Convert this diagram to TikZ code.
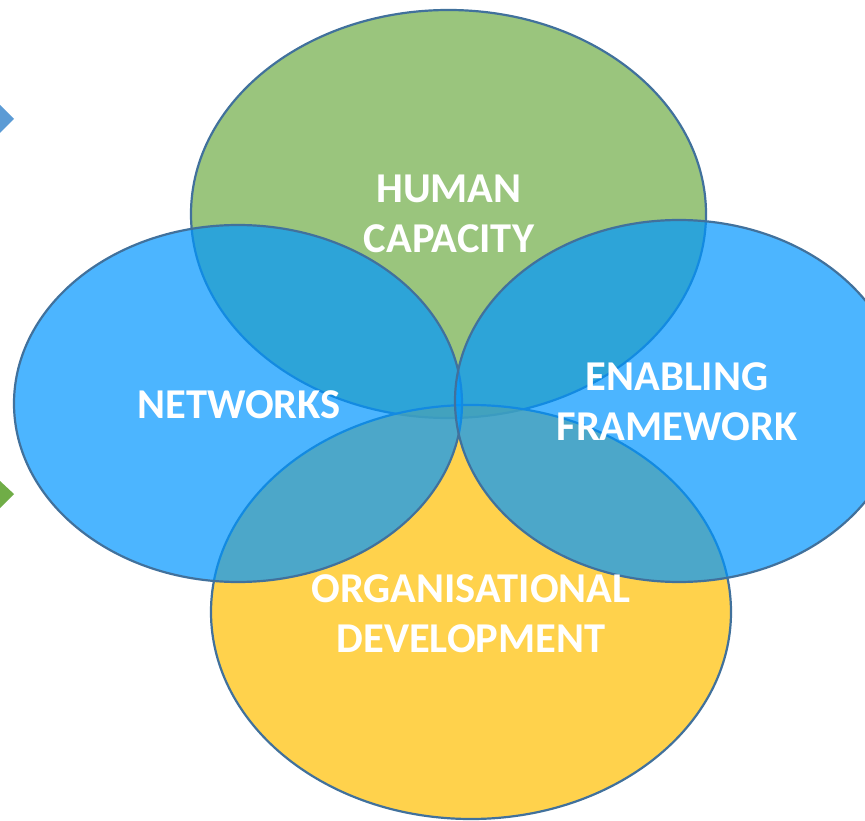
\documentclass[tikz,border=0pt]{standalone}
\usepackage{fontspec}
\setmainfont{Carlito}
\definecolor{edgeblue}{RGB}{65,113,156}
\definecolor{hgreen}{RGB}{112,173,71}
\definecolor{oyellow}{RGB}{255,192,0}
\definecolor{nblue}{RGB}{0,150,255}
\definecolor{tblue}{RGB}{91,155,213}
\tikzset{
  blob/.style={draw=edgeblue, line width=2.2pt, fill opacity=0.7},
  lbl/.style={text=white, font=\fontsize{42.5}{50}\selectfont\bfseries, align=center, inner sep=0pt},
}
\begin{document}
\begin{tikzpicture}[x=1pt,y=-1pt]
\useasboundingbox (0,0) rectangle (865,821);
\fill[white] (0,0) rectangle (865,821);
\clip (0,0) rectangle (865,821);
% partial arrow shapes at the left edge
\fill[tblue] (0,105) -- (14,119) -- (0,133) -- cycle;
\fill[hgreen] (0,481) -- (14,494) -- (0,508) -- cycle;
% ellipses
\filldraw[blob, fill=hgreen] (448.5,214) ellipse [x radius=257.5, y radius=204];
\filldraw[blob, fill=oyellow] (471,612) ellipse [x radius=260, y radius=207];
\filldraw[blob, fill=nblue] (238,403.5) ellipse [x radius=224, y radius=178.5];
\filldraw[blob, fill=nblue] (679,401) ellipse [x radius=224, y radius=181];
% labels
\node[lbl] (human) at (449,214) {HUMAN\\CAPACITY};
\node[lbl] (net) at (239,405) {NETWORKS};
\node[lbl] (enab) at (677,402) {ENABLING\\FRAMEWORK};
\node[lbl] (org) at (471,614) {ORGANISATIONAL\\DEVELOPMENT};
\end{tikzpicture}
\end{document}
